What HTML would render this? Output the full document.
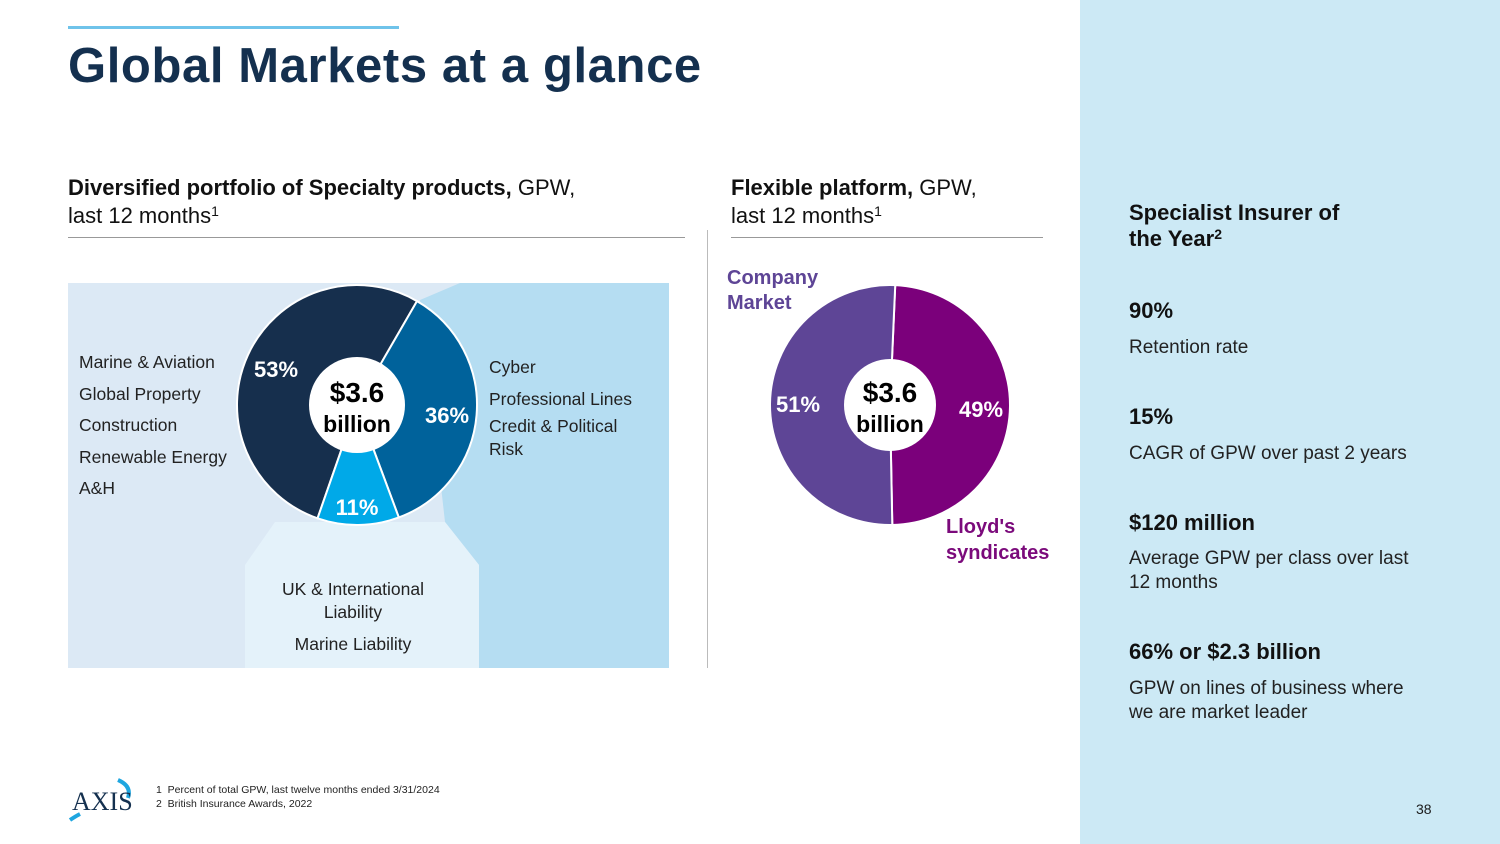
<!DOCTYPE html>
<html><head><meta charset="utf-8"><style>
body{margin:0;width:1500px;height:844px;position:relative;overflow:hidden;background:#fff;font-family:"Liberation Sans",sans-serif;color:#1a1a1a}
.a{position:absolute}
.h{font-size:22px;line-height:28px;color:#111}
.h b{font-weight:bold}
sup{line-height:0;vertical-align:7px}
.lst{font-size:17.5px;line-height:31.5px;color:#222}
.k{font-size:22px;font-weight:bold;color:#111}
.s{font-size:19px;line-height:24px;color:#222}
</style></head><body>
<div class="a" style="left:68px;top:26px;width:331px;height:3px;background:#6fc3ea"></div>
<div class="a" style="left:68px;top:38px;font-size:49px;letter-spacing:0.6px;font-weight:bold;color:#14304f">Global Markets at a glance</div>
<div class="a h" style="left:68px;top:174px"><b>Diversified portfolio of Specialty products,</b> GPW,<br>last 12 months<sup style="font-size:14px">1</sup></div>
<div class="a" style="left:68px;top:237px;width:617px;height:1px;background:#999"></div>
<div class="a h" style="left:731px;top:174px"><b>Flexible platform,</b> GPW,<br>last 12 months<sup style="font-size:14px">1</sup></div>
<div class="a" style="left:731px;top:237px;width:312px;height:1px;background:#999"></div>
<div class="a" style="left:707px;top:230px;width:1px;height:438px;background:#bbb"></div>

<svg class="a" style="left:0;top:0" width="1080" height="844">
<polygon points="68,283 669,283 669,668 68,668" fill="#dce9f5"/>
<polygon points="460,283 669,283 669,668 479,668 479,565 445,522 420,300" fill="#b5ddf2"/>
<polygon points="275,522 445,522 479,565 479,668 245,668 245,565" fill="#e4f2fa"/>
<g id="d1"></g><g id="d2"></g>
</svg>

<div class="a lst" style="left:79px;top:347px">Marine &amp; Aviation<br>Global Property<br>Construction<br>Renewable Energy<br>A&amp;H</div>
<div class="a lst" style="left:489px;top:352px;line-height:31.5px">Cyber<br>Professional Lines<br><span style="line-height:23px;display:inline-block">Credit &amp; Political<br>Risk</span></div>
<div class="a lst" style="left:245px;top:578px;width:216px;text-align:center;line-height:23px">UK &amp; International<br>Liability<div style="margin-top:9px">Marine Liability</div></div>
<div class="a" style="left:727px;top:266px;font-size:20px;font-weight:bold;color:#5e4596;line-height:25px">Company<br>Market</div>
<div class="a" style="left:946px;top:514px;font-size:20px;font-weight:bold;color:#7b0a7b;line-height:26px">Lloyd's<br>syndicates</div>

<div class="a" style="left:1080px;top:0;width:420px;height:844px;background:#cce9f5"></div>
<div class="a k" style="left:1129px;top:200px;line-height:26px">Specialist Insurer of<br>the Year<sup style="font-size:14px">2</sup></div>
<div class="a k" style="left:1129px;top:298px">90%</div>
<div class="a s" style="left:1129px;top:336px">Retention rate</div>
<div class="a k" style="left:1129px;top:404px">15%</div>
<div class="a s" style="left:1129px;top:442px">CAGR of GPW over past 2 years</div>
<div class="a k" style="left:1129px;top:510px">$120 million</div>
<div class="a s" style="left:1129px;top:547px">Average GPW per class over last<br>12 months</div>
<div class="a k" style="left:1129px;top:639px">66% or $2.3 billion</div>
<div class="a s" style="left:1129px;top:677px">GPW on lines of business where<br>we are market leader</div>
<div class="a" style="left:1416px;top:801px;font-size:14px">38</div>

<svg class="a" style="left:66px;top:776px" width="70" height="48">
<path d="M4,44 Q10,40 14,38" stroke="#1ea6e0" stroke-width="4" fill="none"/>
<path d="M52,4 Q66,10 62,22" stroke="#1ea6e0" stroke-width="4" fill="none"/>
<text x="6" y="34" font-family="Liberation Serif" font-size="26" fill="#14304f">AXIS</text>
</svg>
<div class="a" style="left:156px;top:784px;font-size:10.5px;line-height:13.5px;color:#222">1&nbsp;&nbsp;Percent of total GPW, last twelve months ended 3/31/2024<br>2&nbsp;&nbsp;British Insurance Awards, 2022</div>

<script>
const segCats=["Specialty","Financial Lines","Liability"];
const segVals=[53,36,11];
const segColors=["#162f4d","#00629b","#00a9e8"];
const platCats=["Lloyd's syndicates","Company Market"];
const platVals=[49,51];
const platColors=["#7b007b","#5e4596"];
const NS="http://www.w3.org/2000/svg";
function pt(cx,cy,r,a){return [cx+r*Math.sin(a*Math.PI/180),cy-r*Math.cos(a*Math.PI/180)];}
function donut(gid,vals,cats,colors,cx,cy,R,r,start,labelPos){
  const g=document.getElementById(gid);
  const tot=vals.reduce((a,b)=>a+b,0);let a0=start;
  vals.forEach((v,i)=>{
    const a1=a0+v/tot*360;const big=(a1-a0)>180?1:0;
    const p1=pt(cx,cy,R,a0),p2=pt(cx,cy,R,a1);
    const p=document.createElementNS(NS,"path");
    p.setAttribute("d",`M${cx},${cy} L${p1[0]},${p1[1]} A${R},${R} 0 ${big} 1 ${p2[0]},${p2[1]} Z`);
    p.setAttribute("fill",colors[i]);p.setAttribute("stroke","#fff");p.setAttribute("stroke-width","2");
    
    
    g.appendChild(p);
    const lp=labelPos[i];
    const t=document.createElementNS(NS,"text");
    t.setAttribute("x",lp[0]);t.setAttribute("y",lp[1]);t.setAttribute("text-anchor","middle");
    t.setAttribute("font-size","22");t.setAttribute("font-weight","bold");t.setAttribute("fill","#fff");
    t.textContent=v+"%";
    
    
    g.appendChild(t);
    a0=a1;
  });
  const c=document.createElementNS(NS,"circle");c.setAttribute("cx",cx);c.setAttribute("cy",cy);c.setAttribute("r",r);c.setAttribute("fill","#fff");
  
  
  g.appendChild(c);
  [["$3.6",cy-3,28],["billion",cy+27,23]].forEach(s=>{
    const t=document.createElementNS(NS,"text");t.setAttribute("x",cx);t.setAttribute("y",s[1]);t.setAttribute("text-anchor","middle");
    t.setAttribute("font-size",s[2]);t.setAttribute("font-weight","bold");t.setAttribute("fill","#000");t.textContent=s[0];
    
    
    g.appendChild(t);
  });
}
donut("d1",segVals,segCats,segColors,357,405,120,48,-160.8,[[276,377],[447,423],[357,515]]);
donut("d2",platVals,platCats,platColors,890,405,120,46,2.5,[[981,417],[798,412]]);
</script>
</body></html>
